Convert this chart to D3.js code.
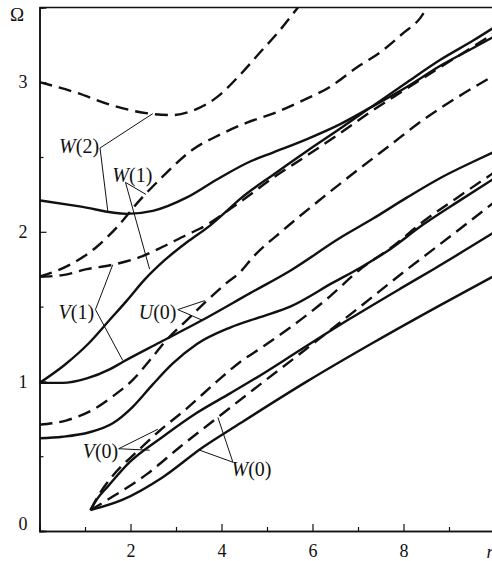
<!DOCTYPE html>
<html>
<head>
<meta charset="utf-8">
<script src="https://cdn.jsdelivr.net/npm/d3@7"></script>
<style>
  body { margin: 0; background: #fff; }
  text { font-family: "Liberation Serif", "DejaVu Serif", serif; fill: #111; }
</style>
</head>
<body>
<div id="chart"></div>
<script>
// tick values
var xMajor = [2, 4, 6, 8],
    xMinor = [1, 3, 5, 7, 9],
    yMajor = [0, 1, 2, 3],
    yMinor = [0.5, 1.5, 2.5];

// curves, [r, Omega]
var w2Dash = [[0,3.00],[0.81,2.93],[1.54,2.85],[2.42,2.79],[2.93,2.78],[3.37,2.81],[3.90,2.90],[4.41,3.05],[4.85,3.20],[5.29,3.35],[5.68,3.50]];
var w2Solid = [[0,2.21],[0.88,2.17],[1.92,2.12],[2.49,2.14],[3.24,2.23],[3.90,2.35],[4.63,2.47],[5.13,2.53],[5.88,2.62],[6.61,2.72],[7.27,2.83],[8.08,2.97],[8.81,3.11],[9.54,3.23],[9.96,3.30]];
var w1Dash = [[0,1.70],[0.73,1.79],[1.26,1.90],[1.70,2.03],[2.20,2.21],[2.71,2.37],[3.37,2.55],[3.97,2.65],[4.56,2.73],[5.13,2.79],[5.73,2.87],[6.39,2.97],[6.98,3.10],[7.49,3.20],[8.00,3.33],[8.37,3.43],[8.52,3.50]];
var w1Solid = [[0,0.99],[0.55,1.11],[1.10,1.26],[1.54,1.41],[1.92,1.54],[2.31,1.68],[2.75,1.81],[3.24,1.93],[3.74,2.04],[4.19,2.16],[4.41,2.22],[5.13,2.38],[5.88,2.54],[6.61,2.69],[7.27,2.83],[8.08,3.00],[8.81,3.15],[9.54,3.28],[9.96,3.36]];
var v1Dash = [[0,1.70],[0.51,1.71],[1.04,1.75],[1.61,1.78],[2.20,1.83],[2.71,1.90],[3.24,1.98],[3.52,2.02],[4.41,2.20],[5.13,2.36],[5.88,2.51],[6.61,2.66],[7.27,2.80],[8.08,2.96],[8.81,3.10],[9.54,3.24],[9.96,3.32]];
var v1Solid = [[0,0.99],[0.51,0.99],[1.04,1.02],[1.54,1.08],[1.83,1.13],[2.64,1.26],[3.52,1.40],[4.63,1.59],[5.51,1.74],[6.61,1.96],[7.34,2.09],[8.08,2.23],[8.81,2.36],[9.54,2.47],[9.96,2.53]];
var u0Dash = [[0,0.71],[0.60,0.74],[1.17,0.81],[1.61,0.90],[2.05,1.01],[2.42,1.14],[2.80,1.28],[3.24,1.41],[3.68,1.54],[4.12,1.66],[4.41,1.73],[4.69,1.83],[5.35,2.01],[6.23,2.23],[6.98,2.41],[7.71,2.58],[8.44,2.75],[9.19,2.90],[9.96,3.04]];
var u0Solid = [[0,0.62],[0.51,0.63],[1.10,0.66],[1.61,0.72],[2.05,0.83],[2.49,0.98],[2.93,1.12],[3.46,1.25],[4.19,1.36],[4.85,1.43],[5.51,1.50],[6.45,1.66],[7.05,1.76],[7.64,1.87],[8.44,2.05],[9.19,2.20],[9.96,2.35]];
var v0Dash = [[1.12,0.14],[1.32,0.25],[1.61,0.37],[2.14,0.53],[2.64,0.67],[3.24,0.82],[3.90,1.00],[4.41,1.13],[4.85,1.22],[5.51,1.36],[6.39,1.57],[7.05,1.75],[7.71,1.89],[8.44,2.07],[9.19,2.23],[9.96,2.39]];
var v0Solid = [[1.12,0.14],[1.28,0.22],[1.48,0.29],[1.98,0.46],[2.71,0.63],[3.46,0.79],[4.19,0.92],[4.85,1.04],[5.73,1.21],[6.83,1.42],[7.93,1.62],[8.66,1.75],[9.96,1.99]];
var w0Dash = [[1.12,0.14],[1.61,0.23],[2.36,0.38],[3.08,0.56],[3.92,0.76],[4.85,0.98],[5.79,1.20],[7.05,1.50],[8.00,1.73],[9.03,1.97],[9.96,2.19]];
var w0Solid = [[1.12,0.14],[1.83,0.21],[2.71,0.36],[3.59,0.56],[4.41,0.72],[5.88,1.00],[7.34,1.26],[8.81,1.51],[9.96,1.70]];

// labels: text position and leader end points, data units
var labels = [
  { name: "W", idx: "2", at: [1.31, 2.53], anchor: "end",   from: [1.33, 2.56], to: [[2.49, 2.79], [1.50, 2.14]] },
  { name: "W", idx: "1", at: [1.60, 2.33], anchor: "start", from: [1.89, 2.33], to: [[2.34, 2.25], [2.42, 1.75]] },
  { name: "V", idx: "1", at: [1.20, 1.42], anchor: "end",   from: [1.23, 1.48], to: [[1.61, 1.78], [1.83, 1.14]] },
  { name: "U", idx: "0", at: [3.01, 1.42], anchor: "end",   from: [3.04, 1.48], to: [[3.63, 1.54], [3.57, 1.41]] },
  { name: "V", idx: "0", at: [1.73, 0.49], anchor: "end",   from: [1.74, 0.55], to: [[2.60, 0.68], [2.42, 0.54]] },
  { name: "W", idx: "0", at: [4.22, 0.37], anchor: "start", from: [4.25, 0.46], to: [[3.92, 0.76], [3.52, 0.54]] }
];

var width = 492, height = 561;

var x = d3.scaleLinear().domain([0, 10]).range([39.5, 494.5]);
var y = d3.scaleLinear().domain([0, 3.5]).range([531, 7.4]);

var svg = d3.select("#chart").append("svg")
    .attr("width", width)
    .attr("height", height);

svg.append("defs").append("clipPath").attr("id", "plot")
  .append("rect").attr("x", x(0)).attr("y", y(3.5)).attr("width", x(10) - x(0)).attr("height", y(0) - y(3.5));

var series = [
  { pts: w2Dash, dash: true }, { pts: w2Solid },
  { pts: w1Dash, dash: true }, { pts: w1Solid },
  { pts: v1Dash, dash: true }, { pts: v1Solid },
  { pts: u0Dash, dash: true }, { pts: u0Solid },
  { pts: v0Dash, dash: true }, { pts: v0Solid },
  { pts: w0Dash, dash: true }, { pts: w0Solid }
];

var line = d3.line()
    .x(function(d) { return x(d[0]); })
    .y(function(d) { return y(d[1]); })
    .curve(d3.curveMonotoneX);

svg.append("g").attr("clip-path", "url(#plot)")
  .selectAll("path").data(series).enter().append("path")
    .attr("d", function(d) { return line(d.pts); })
    .attr("fill", "none")
    .attr("stroke", "#111")
    .attr("stroke-width", 2.4)
    .attr("stroke-dasharray", function(d) { return d.dash ? "13,7" : null; });

// axes, ticks pointing inwards
var gx = svg.append("g").attr("transform", "translate(0," + y(0) + ")");
gx.call(d3.axisBottom(x).tickValues(xMajor).tickSize(-7).tickPadding(13).tickFormat(d3.format("d")));
gx.append("g").call(d3.axisBottom(x).tickValues(xMinor).tickSize(-4).tickFormat(""));

var gy = svg.append("g").attr("transform", "translate(" + x(0) + ",0)");
gy.call(d3.axisLeft(y).tickValues(yMajor).tickSize(-7).tickPadding(12).tickFormat(d3.format("d")));
gy.append("g").call(d3.axisLeft(y).tickValues(yMinor).tickSize(-4).tickFormat(""));

svg.selectAll(".domain").attr("stroke", "#111").attr("stroke-width", 1.5);
svg.selectAll(".tick line").attr("stroke", "#111").attr("stroke-width", 1.2);
svg.selectAll(".tick text").attr("font-size", 18).attr("font-family", "Liberation Serif, serif").attr("fill", "#111");
gy.selectAll(".tick text").filter(function(d) { return d === 0; }).attr("dy", "-0.1em");

// top frame
svg.append("line")
  .attr("x1", x(0)).attr("x2", width).attr("y1", y(3.5)).attr("y2", y(3.5))
  .attr("stroke", "#111").attr("stroke-width", 1.5);

svg.append("text").attr("x", 17).attr("y", 21).attr("text-anchor", "middle")
  .attr("font-size", 19).text("Ω");
svg.append("text").attr("x", x(9.9)).attr("y", 558).attr("text-anchor", "middle")
  .attr("font-size", 18).attr("font-style", "italic").text("r");

// annotations
var ann = svg.append("g");
labels.forEach(function(l) {
  l.to.forEach(function(t) {
    ann.append("line")
      .attr("x1", x(l.from[0])).attr("y1", y(l.from[1]))
      .attr("x2", x(t[0])).attr("y2", y(t[1]))
      .attr("stroke", "#111").attr("stroke-width", 1);
  });
  var t = ann.append("text")
    .attr("x", x(l.at[0])).attr("y", y(l.at[1]))
    .attr("text-anchor", l.anchor)
    .attr("font-size", 20);
  t.append("tspan").attr("font-style", "italic").text(l.name);
  t.append("tspan").text("(" + l.idx + ")");
});
</script>
</body>
</html>
